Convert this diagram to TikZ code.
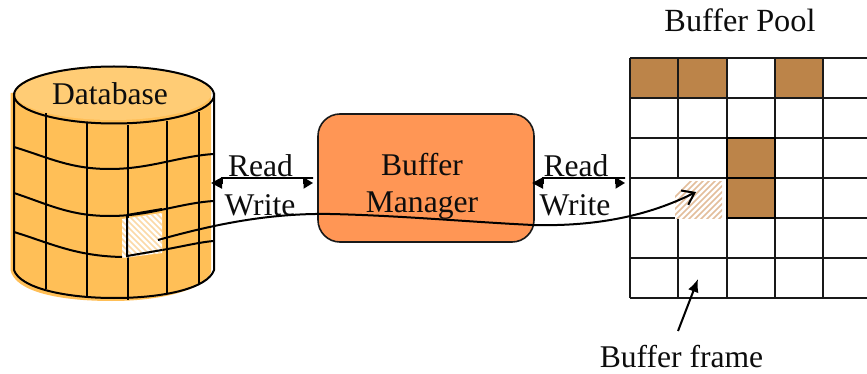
\documentclass[tikz,border=0pt]{standalone}
\usepackage{fontspec}
\setmainfont{Liberation Serif}
\usetikzlibrary{arrows.meta}
\definecolor{dbbody}{HTML}{FFBF57}
\definecolor{dbtop}{HTML}{FFCC75}
\definecolor{mgr}{HTML}{FF9655}
\definecolor{brownc}{HTML}{BC8449}
\definecolor{hatchdb}{HTML}{FBD9A8}
\definecolor{hatchbr}{HTML}{E3BE9C}
\tikzset{
  lbl/.style={inner sep=0pt,anchor=base,font=\fontsize{31.6}{36}\selectfont,text=black!95},
  ln/.style={draw=black,line width=2pt},
  gridln/.style={draw=black!90,line width=2pt},
  conn/.style={draw=black,line width=2pt},
  biarrow/.style={conn,{Triangle[length=11pt,width=11pt]}-{Triangle[length=9.5pt,width=11pt]}}
}
\begin{document}
\begin{tikzpicture}[x=1pt,y=-1pt]
\useasboundingbox (0,0) rectangle (867,374);
\fill[white] (0,0) rectangle (867,374);
% database body
\fill[dbbody] (10.5,93) -- (211,93) -- (211,272)
  .. controls (205,290) and (160,301) .. (112,301)
  .. controls (60,301) and (15,292) .. (10.5,270) -- cycle;
\fill[dbtop] (113,93) ellipse [x radius=98.5,y radius=27];
% grid curves on the cylinder
\draw[ln] (14,147) .. controls (50,158) and (70,169) .. (110,169) .. controls (150,169) and (180,156) .. (214,154);
\draw[ln] (14,193) .. controls (50,205) and (70,216) .. (110,216) .. controls (150,216) and (180,203) .. (214,201);
\draw[ln] (14,232) .. controls (50,243) and (75,256) .. (122,257);
\draw[ln] (162,250) .. controls (180,247) and (200,242) .. (214,241);
\foreach \x/\a/\b in {46/113/289,87/122/297,128/125/300,167/121/293,199/112/285}
  \draw[ln] (\x,\a) -- (\x,\b);
% hatched block in the database
\begin{scope}
  \clip (122,219) -- (162,213) -- (162,253) -- (122,258) -- cycle;
  \fill[white] (115,205) rectangle (170,265);
  \foreach \i in {0,6,...,102}
    \draw[hatchdb,line width=1.6pt] (112+\i,265) -- (112+\i-60,205);
\end{scope}
\draw[ln] (127,215) -- (127,256) -- (162,250);
\draw[ln] (127,215) -- (162,209);
% cylinder outline
\draw[ln] (14,93) -- (14,270) .. controls (20,288) and (65,298) .. (114,298)
  .. controls (165,298) and (208,288) .. (214,270) -- (214,93);
\draw[ln] (114,95) ellipse [x radius=100,y radius=28.5];
% buffer manager
\node[draw=black!90,line width=1.6pt,fill=mgr,rounded corners=22pt,minimum width=216pt,minimum height=128pt,inner sep=0pt] (mgrbox) at (426,178) {};
% buffer pool
\foreach \cx/\cy in {630/58,678/58,775/58,727/138,727/178}
  \fill[brownc] (\cx,\cy) rectangle ++(48,40);
\foreach \y in {58,98,138,178,218,258,298}
  \draw[gridln] (630,\y) -- (867,\y);
\foreach \x in {630,678,727,775,823}
  \draw[gridln] (\x,58) -- (\x,298);
\fill[white] (675,179) rectangle (726,219);
\begin{scope}
  \clip (675,182) rectangle (722,218);
  \foreach \i in {0,6,...,114}
    \draw[hatchbr,line width=1.5pt] (650+\i,222) -- (650+\i+50,172);
\end{scope}
\draw[gridln] (678,178) -- (727,178) -- (727,218);
\foreach \cx/\cy in {727/138,727/178}
  \draw[draw=black,line width=2pt] (\cx,\cy) rectangle ++(48,40);
% labels
\node[lbl] (dbl) at (110,105) {Database};
\node[lbl] (mgrA) at (422,176) {Buffer};
\node[lbl] (mgrB) at (422,212) {Manager};
\node[lbl] (r1) at (260.5,177) {Read};
\node[lbl] (w1) at (260,215) {Write};
\node[lbl] (r2) at (576,177) {Read};
\node[lbl] (w2) at (575,215) {Write};
\node[lbl,font=\fontsize{32.3}{36}\selectfont] (pool) at (740,31.5) {Buffer Pool};
\node[lbl] (frame) at (681.5,367) {Buffer frame};
% connectors
\coordinate (dbE) at (211,183);
\coordinate (mgrW) at (313,183);
\coordinate (mgrE) at (532,183);
\coordinate (poolW) at (625,183);
\coordinate (blk) at (158,240);
\coordinate (slot) at (696,192);
\coordinate (cell) at (698,279);
\coordinate (frameT) at (678,331);
\draw[biarrow] (dbE) -- ++(11,0) -- ++(0,-5) -- ++(91,0) -- ++(-9.5,0) -- ++(0,5) -- (mgrW);
\draw[biarrow] (mgrE) -- ++(11,0) -- ++(0,-5) -- ++(82,0) -- ++(-9.5,0) -- ++(0,5) -- (poolW);
\draw[conn,-{Straight Barb[length=11pt,width=16pt]}] (blk) .. controls (215,224) and (270,213) .. (330,214)
  .. controls (400,215.5) and (470,222) .. (533,225)
  .. controls (610,227) and (660,210) .. (slot);
\draw[conn,-{Latex[length=13pt,width=11pt]}] (frameT) -- (cell);
\end{tikzpicture}
\end{document}
